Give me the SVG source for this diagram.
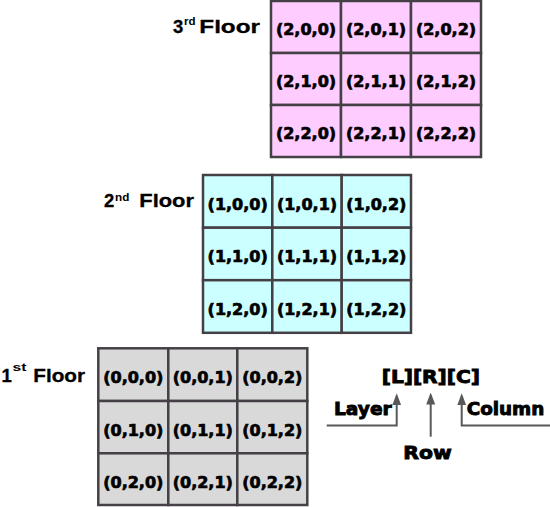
<svg xmlns="http://www.w3.org/2000/svg" width="550" height="507" viewBox="0 0 550 507">
<style>
  .cell { stroke: #454045; stroke-width: 2.5; }
  .f3 { fill: #FFCCFF; }
  .f2 { fill: #CCFFFF; }
  .f1 { fill: #D9D9D9; }
  .ct { font-family: "DejaVu Sans", Verdana, sans-serif; font-weight: bold; font-size: 16px; fill: #000; stroke: #000; stroke-width: 0.7; text-anchor: middle; }
  .fl { font-family: "Liberation Sans", Arial, sans-serif; font-weight: bold; font-size: 18.5px; fill: #000; stroke: #000; stroke-width: 0.3; }
  .sup { font-family: "Liberation Sans", Arial, sans-serif; font-weight: bold; font-size: 11px; fill: #000; }
  .lg { font-family: "DejaVu Sans", Verdana, sans-serif; font-weight: bold; font-size: 18px; fill: #000; stroke: #000; stroke-width: 0.9; }
  .conn { fill: none; stroke: #595959; stroke-width: 2; }
</style>
<defs>
  <marker id="ah" viewBox="0 0 12 9" refX="9" refY="4.5" markerWidth="12" markerHeight="9" markerUnits="userSpaceOnUse" orient="auto">
    <path d="M0,0 L12,4.5 L0,9 z" fill="#595959"/>
  </marker>
</defs>

<!-- 3rd floor -->
<g id="floor3">
  <g id="label3">
    <text class="fl" x="173" y="33.3">3</text>
    <text class="sup" x="184" y="25" textLength="11.5" lengthAdjust="spacingAndGlyphs">rd</text>
    <text class="fl" x="199.3" y="33.3" textLength="60.7" lengthAdjust="spacingAndGlyphs">Floor</text>
  </g>
  <g id="c200"><rect class="cell f3" x="271" y="1" width="70" height="52"/><text class="ct" x="306" y="35">(2,0,0)</text></g>
  <g id="c201"><rect class="cell f3" x="341" y="1" width="70" height="52"/><text class="ct" x="376" y="35">(2,0,1)</text></g>
  <g id="c202"><rect class="cell f3" x="411" y="1" width="70" height="52"/><text class="ct" x="446" y="35">(2,0,2)</text></g>
  <g id="c210"><rect class="cell f3" x="271" y="53" width="70" height="52"/><text class="ct" x="306" y="87">(2,1,0)</text></g>
  <g id="c211"><rect class="cell f3" x="341" y="53" width="70" height="52"/><text class="ct" x="376" y="87">(2,1,1)</text></g>
  <g id="c212"><rect class="cell f3" x="411" y="53" width="70" height="52"/><text class="ct" x="446" y="87">(2,1,2)</text></g>
  <g id="c220"><rect class="cell f3" x="271" y="105" width="70" height="52"/><text class="ct" x="306" y="139">(2,2,0)</text></g>
  <g id="c221"><rect class="cell f3" x="341" y="105" width="70" height="52"/><text class="ct" x="376" y="139">(2,2,1)</text></g>
  <g id="c222"><rect class="cell f3" x="411" y="105" width="70" height="52"/><text class="ct" x="446" y="139">(2,2,2)</text></g>
</g>

<!-- 2nd floor -->
<g id="floor2">
  <g id="label2">
    <text class="fl" x="104" y="207.3">2</text>
    <text class="sup" x="115" y="200.5" textLength="14.3" lengthAdjust="spacingAndGlyphs">nd</text>
    <text class="fl" x="139.3" y="207.3" textLength="54.7" lengthAdjust="spacingAndGlyphs">Floor</text>
  </g>
  <g id="c100"><rect class="cell f2" x="203" y="175" width="69.3" height="52.7"/><text class="ct" x="237.7" y="209.5">(1,0,0)</text></g>
  <g id="c101"><rect class="cell f2" x="272.3" y="175" width="69.4" height="52.7"/><text class="ct" x="307" y="209.5">(1,0,1)</text></g>
  <g id="c102"><rect class="cell f2" x="341.7" y="175" width="69.3" height="52.7"/><text class="ct" x="376.3" y="209.5">(1,0,2)</text></g>
  <g id="c110"><rect class="cell f2" x="203" y="227.7" width="69.3" height="52.5"/><text class="ct" x="237.7" y="262">(1,1,0)</text></g>
  <g id="c111"><rect class="cell f2" x="272.3" y="227.7" width="69.4" height="52.5"/><text class="ct" x="307" y="262">(1,1,1)</text></g>
  <g id="c112"><rect class="cell f2" x="341.7" y="227.7" width="69.3" height="52.5"/><text class="ct" x="376.3" y="262">(1,1,2)</text></g>
  <g id="c120"><rect class="cell f2" x="203" y="280.2" width="69.3" height="52.6"/><text class="ct" x="237.7" y="314.5">(1,2,0)</text></g>
  <g id="c121"><rect class="cell f2" x="272.3" y="280.2" width="69.4" height="52.6"/><text class="ct" x="307" y="314.5">(1,2,1)</text></g>
  <g id="c122"><rect class="cell f2" x="341.7" y="280.2" width="69.3" height="52.6"/><text class="ct" x="376.3" y="314.5">(1,2,2)</text></g>
</g>

<!-- 1st floor -->
<g id="floor1">
  <g id="label1">
    <text class="fl" x="1.5" y="381.7">1</text>
    <text class="sup" x="12.5" y="371" textLength="14" lengthAdjust="spacingAndGlyphs">st</text>
    <text class="fl" x="33.3" y="381.7" textLength="51.7" lengthAdjust="spacingAndGlyphs">Floor</text>
  </g>
  <g id="c000"><rect class="cell f1" x="98.3" y="348.3" width="70" height="52.7"/><text class="ct" x="133.3" y="383.3">(0,0,0)</text></g>
  <g id="c001"><rect class="cell f1" x="168.3" y="348.3" width="69" height="52.7"/><text class="ct" x="202.8" y="383.3">(0,0,1)</text></g>
  <g id="c002"><rect class="cell f1" x="237.3" y="348.3" width="70" height="52.7"/><text class="ct" x="272.3" y="383.3">(0,0,2)</text></g>
  <g id="c010"><rect class="cell f1" x="98.3" y="401" width="70" height="52.3"/><text class="ct" x="133.3" y="435.5">(0,1,0)</text></g>
  <g id="c011"><rect class="cell f1" x="168.3" y="401" width="69" height="52.3"/><text class="ct" x="202.8" y="435.5">(0,1,1)</text></g>
  <g id="c012"><rect class="cell f1" x="237.3" y="401" width="70" height="52.3"/><text class="ct" x="272.3" y="435.5">(0,1,2)</text></g>
  <g id="c020"><rect class="cell f1" x="98.3" y="453.3" width="70" height="51.7"/><text class="ct" x="133.3" y="487.5">(0,2,0)</text></g>
  <g id="c021"><rect class="cell f1" x="168.3" y="453.3" width="69" height="51.7"/><text class="ct" x="202.8" y="487.5">(0,2,1)</text></g>
  <g id="c022"><rect class="cell f1" x="237.3" y="453.3" width="70" height="51.7"/><text class="ct" x="272.3" y="487.5">(0,2,2)</text></g>
</g>

<!-- legend -->
<g id="legend">
  <text class="lg" x="381.7" y="382.7" textLength="98.3" lengthAdjust="spacingAndGlyphs">[L][R][C]</text>
  <text class="lg" x="334" y="415" textLength="57.7" lengthAdjust="spacingAndGlyphs">Layer</text>
  <text class="lg" x="466.7" y="415" textLength="77.6" lengthAdjust="spacingAndGlyphs">Column</text>
  <text class="lg" x="403.3" y="459.3" textLength="48.4" lengthAdjust="spacingAndGlyphs">Row</text>
</g>

<g id="connectors">
  <path class="conn" d="M326.7,425.5 H396.7 V396.3" marker-end="url(#ah)"/>
  <path class="conn" d="M430.7,436.7 V395.5" marker-end="url(#ah)"/>
  <path class="conn" d="M550,425.5 H461.7 V396.3" marker-end="url(#ah)"/>
</g>
</svg>
